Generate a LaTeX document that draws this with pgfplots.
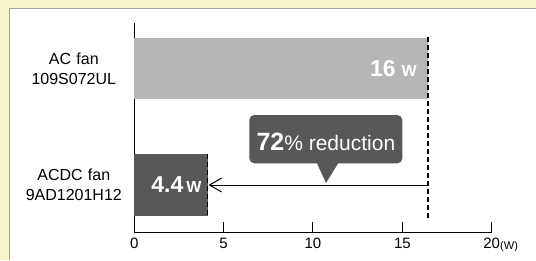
\documentclass[border=0pt]{standalone}
\usepackage{pgfplots}
\pgfplotsset{compat=1.18}
\usepackage{fontspec}
\setmainfont{Liberation Sans}
\usetikzlibrary{arrows.meta}
\definecolor{bgyellow}{RGB}{248,244,202}
\definecolor{lightbar}{RGB}{181,182,181}
\definecolor{darkbar}{RGB}{89,87,87}
\definecolor{framegray}{RGB}{165,165,165}

\begin{document}
\begin{tikzpicture}
\fill[bgyellow] (0,0) rectangle (536pt,-260pt);
\fill[white] (9.3pt,-8.5pt) rectangle (536pt,-260pt);
\draw[framegray, line width=1.2pt] (9.3pt,-260pt) -- (9.3pt,-8.5pt) -- (536pt,-8.5pt);
\begin{axis}[
  at={(134.3pt,-232.7pt)}, anchor=south west,
  scale only axis, width=357.4pt, height=209.4pt,
  xmin=0, xmax=20, ymin=-0.409, ymax=1.387,
  axis lines=left,
  axis line style={-, line width=1.1pt, black},
  clip=false,
  xtick={0,5,10,15,20},
  ytick={0,1},
  yticklabels={{ACDC fan\\9AD1201H12},{AC fan\\109S072UL}},
  /pgf/number format/assume math mode=true,
  tick align=inside,
  major tick length=10.4pt,
  xtick style={line width=1pt, black},
  ytick style={draw=none},
  xticklabel style={font=\fontsize{15}{15}\selectfont, inner sep=0pt, yshift=-5.6pt},
  yticklabel style={font=\fontsize{16}{20}\selectfont, text width=100pt, align=center, inner sep=0pt},
  yticklabel shift=10.3pt,
]
\addplot[xbar, bar shift=0pt, bar width=61.5pt, fill=lightbar, draw=none] coordinates {(16.43,1)};
\addplot[xbar, bar shift=0pt, bar width=61.5pt, fill=darkbar, draw=none] coordinates {(4.11,0)};

\draw[dash pattern=on 5pt off 3pt, line width=1.3pt] (axis cs:16.43,1.272) -- (axis cs:16.43,-0.283);
\draw[dash pattern=on 5pt off 3pt, line width=1.3pt] (axis cs:4.11,0.262) -- (axis cs:4.11,-0.262);

\draw[-{Straight Barb[length=12pt,width=14pt]}, line width=1pt] (axis cs:16.43,0) -- (axis cs:4.16,0);

\fill[darkbar, rounded corners=5pt] (axis cs:6.435,0.186) rectangle (axis cs:15.0,0.600);
\fill[darkbar] (axis cs:10.21,0.19) -- (axis cs:11.42,0.19) -- (axis cs:10.73,0.017) -- cycle;
\node[anchor=base, text=white, inner sep=0pt] at (axis cs:10.72,0.300)
  {\fontsize{25}{25}\selectfont\bfseries 72\fontsize{21}{21}\selectfont\mdseries\% reduction};

\node[anchor=base east, text=white, inner sep=0pt] at (axis cs:15.82,0.929)
  {\fontsize{23}{23}\selectfont\bfseries 16\hspace{6pt}\fontsize{16}{16}\selectfont W};
\node[anchor=base east, text=white, inner sep=0pt] at (axis cs:3.77,-0.066)
  {\fontsize{23}{23}\selectfont\bfseries 4.4\hspace{3pt}\fontsize{16}{16}\selectfont W};
\end{axis}
\node[anchor=base west, inner sep=0pt, font=\fontsize{11}{11}\selectfont] at (500pt,-249pt) {(W)};
\pgfresetboundingbox
\path (0,0) rectangle (536pt,-260pt);
\end{tikzpicture}
\end{document}
